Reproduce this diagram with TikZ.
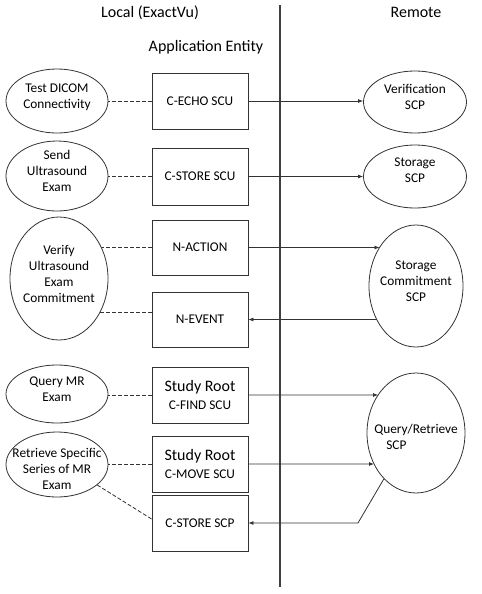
\documentclass[tikz,border=0pt]{standalone}
\usepackage{fontspec}
\setmainfont{Carlito}
\usetikzlibrary{shapes.geometric,arrows.meta,intersections,calc}
\pgfdeclarelayer{background}
\pgfsetlayers{background,main}
\newcommand\ztext[2][0pt]{\smash{\makebox[0pt]{\raisebox{#1}{\begin{tabular}{@{}c@{}}#2\end{tabular}}}}}
\newcommand\zltext[2][0pt]{\smash{\makebox[0pt]{\raisebox{#1}{\begin{tabular}{@{}l@{}}#2\end{tabular}}}}}
\begin{document}
\begin{tikzpicture}[x=0.75pt,y=-0.75pt,
  linec/.style={draw=black!80, line width=0.6pt},
  boxnode/.style={linec, fill=white, rectangle, minimum width=72pt, minimum height=42pt, inner sep=0pt, align=center, font=\fontsize{10}{12}\selectfont},
  oval/.style={linec, fill=white, ellipse, inner sep=0pt, font=\fontsize{10}{12}\selectfont},
  dashline/.style={linec, dash pattern=on 3pt off 1.5pt},
  arr/.style={linec, -{Latex[length=3.75pt,width=3pt]}},
  title/.style={font=\fontsize{12}{14}\selectfont, inner sep=0pt}
]
\useasboundingbox (0,0) rectangle (482,594);

% titles
\node[title] (tlocal) at (150,13) {Local (ExactVu)};
\node[title] (tremote) at (416,12) {Remote};
\node[title] (tae) at (206,47) {Application Entity};

% divider
\coordinate (vtop) at (280,5);
\coordinate (vbot) at (280,587);
\draw[draw=black!75, line width=0.8pt] (vtop) -- (vbot);

% boxes
\node[boxnode] (b1) at (200,101) {C-ECHO SCU};
\node[boxnode, minimum height=42.75pt] (b2) at (200,176.5) {C-STORE SCU};
\node[boxnode, minimum height=41.25pt] (b3) at (200,247.5) {N-ACTION};
\node[boxnode, minimum height=41.25pt] (b4) at (200,319.5) {N-EVENT};
\node[boxnode, font=\fontsize{10}{13.5}\selectfont] (b5) at (200,395) {{\fontsize{12}{13.5}\selectfont Study Root}\\C-FIND SCU};
\node[boxnode, font=\fontsize{10}{13.5}\selectfont] (b6) at (200,464) {{\fontsize{12}{13.5}\selectfont Study Root}\\C-MOVE SCU};
\node[boxnode] (b7) at (200,523) {C-STORE SCP};

% left ellipses
\node[oval, minimum width=76.5pt, minimum height=48pt] (e1) at (57,101) {\ztext{Test DICOM\\Connectivity}};
\node[oval, minimum width=76.5pt, minimum height=52.5pt] (e2) at (57,176) {\ztext{Send\\Ultrasound\\Exam}};
\node[oval, minimum width=73.5pt, minimum height=92.25pt] (e3) at (59,278.5) {\ztext{Verify\\Ultrasound\\Exam\\Commitment}};
\node[oval, minimum width=76.5pt, minimum height=43.5pt] (e4) at (57,394) {\ztext{Query MR\\Exam}};
\node[oval, minimum width=76.5pt, minimum height=48.75pt] (e5) at (57,464.5) {\ztext[-6.6pt]{Retrieve Specific\\Series of MR\\Exam}};

% right ellipses
\node[oval, minimum width=77.25pt, minimum height=46.5pt] (r1) at (415,102) {\ztext{Verification\\SCP}};
\node[oval, minimum width=77.25pt, minimum height=47.25pt] (r2) at (415,176.5) {\ztext[1.7pt]{Storage\\SCP}};
\node[oval, name path=r3p, minimum width=70.5pt, minimum height=91.5pt] (r3) at (416,286) {\ztext{Storage\\Commitment\\SCP}};
\node[oval, name path=r4p, minimum width=73.5pt, minimum height=90pt] (r4) at (416,433) {\zltext[-6.6pt]{Query/Retrieve\\\hspace*{9pt}SCP}};

% connectors hidden partly under ellipses
\begin{pgfonlayer}{background}
\draw[dashline] (b1.west) -- (b1.west -| e1.center);
\draw[dashline] (b2.west) -- (b2.west -| e2.center);
\draw[dashline] (b3.west) -- (b3.west -| e3.center);
\draw[dashline] ($(b4.west)+(0,-7.5)$) -- ($(b4.west -| e3.center)+(0,-7.5)$);
\draw[dashline] (b5.west) -- (b5.west -| e4.center);
\draw[dashline] (b6.west) -- (b6.west -| e5.center);
\draw[arr] (b4.east -| r3.center) -- (b4.east);
\end{pgfonlayer}

\draw[dashline] (e5.333) -- ($(b7.west)+(0,-4)$);

% arrows to remote
\draw[arr] (b1.east) -- (b1.east -| r1.west);
\draw[arr] (b2.east) -- (b2.east -| r2.west);
\path[name path=l3] (b3.east) -- (b3.east -| r3.center);
\draw[arr, name intersections={of=r3p and l3, by=i3}] (b3.east) -- (i3);
\path[name path=l5] (b5.east) -- (b5.east -| r4.center);
\draw[arr, name intersections={of=r4p and l5, by=i5}] (b5.east) -- (i5);
\path[name path=l6] (b6.east) -- (b6.east -| r4.center);
\draw[arr, name intersections={of=r4p and l6, by=i6}] (b6.east) -- (i6);

\coordinate (bend) at (358,523);
\draw[arr] (r4.235) -- (bend) -- (b7.east);
\end{tikzpicture}
\end{document}
